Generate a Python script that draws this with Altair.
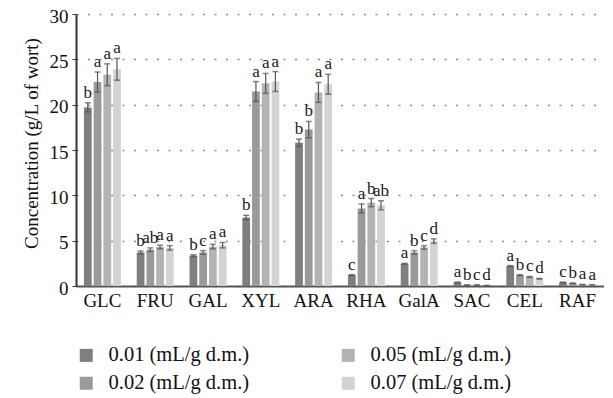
import altair as alt
import pandas as pd

sugars = ["GLC", "FRU", "GAL", "XYL", "ARA", "RHA", "GalA", "SAC", "CEL", "RAF"]
doses = ["0.01 (mL/g d.m.)", "0.02 (mL/g d.m.)", "0.05 (mL/g d.m.)", "0.07 (mL/g d.m.)"]
colors = ["#7f7f7f", "#9a9a9a", "#b3b3b3", "#d3d3d3"]

v001 = [19.7, 3.7, 3.35, 7.55, 15.8, 1.2, 2.45, 0.4, 2.2, 0.4]
v002 = [22.5, 4.0, 3.7, 21.45, 17.25, 8.55, 3.7, 0.1, 1.2, 0.3]
v005 = [23.3, 4.3, 4.35, 22.35, 21.35, 9.2, 4.25, 0.1, 1.0, 0.15]
v007 = [23.9, 4.2, 4.5, 22.55, 22.25, 8.9, 4.95, 0.05, 0.8, 0.12]

e001 = [0.5, 0.15, 0.1, 0.25, 0.4, 0.05, 0.05, 0.02, 0.05, 0.02]
e002 = [1.1, 0.2, 0.2, 1.1, 0.9, 0.5, 0.2, 0.02, 0.05, 0.02]
e005 = [1.2, 0.2, 0.25, 1.1, 1.1, 0.45, 0.2, 0.02, 0.05, 0.02]
e007 = [1.2, 0.25, 0.3, 1.1, 1.1, 0.5, 0.25, 0.01, 0.04, 0.02]

l001 = ["b", "b", "b", "b", "b", "c", "a", "a", "a", "c"]
l002 = ["a", "ab", "c", "a", "b", "a", "b", "b", "b", "b"]
l005 = ["a", "a", "a", "a", "a", "b", "c", "c", "c", "a"]
l007 = ["a", "a", "a", "a", "a", "ab", "d", "d", "d", "a"]

rows = []
for dose, vals, errs, lets in zip(doses, [v001, v002, v005, v007],
                                  [e001, e002, e005, e007],
                                  [l001, l002, l005, l007]):
    for s, v, e, l in zip(sugars, vals, errs, lets):
        rows.append({"sugar": s, "dose": dose, "value": v,
                     "lo": v - e, "hi": v + e, "letter": l})
df = pd.DataFrame(rows)

FONT = "Liberation Serif"

base = alt.Chart(df).encode(
    x=alt.X("sugar:N", sort=sugars,
            scale=alt.Scale(paddingInner=0.3, paddingOuter=0.15),
            axis=alt.Axis(title=None, ticks=False, labelAngle=0,
                          labelFont=FONT, labelFontSize=19, labelColor="#111",
                          labelPadding=5, domainColor="#555", domainWidth=2)),
    xOffset=alt.XOffset("dose:N", sort=doses,
                        scale=alt.Scale(paddingInner=0.2, paddingOuter=0)),
)

bars = base.mark_bar().encode(
    y=alt.Y("value:Q", scale=alt.Scale(domain=[0, 30], nice=False),
            axis=alt.Axis(values=[0, 5, 10, 15, 20, 25, 30], grid=True,
                          gridDash=[2, 9.5], gridColor="#8a8a8a", gridWidth=1.5,
                          domainColor="#333", domainWidth=2,
                          tickColor="#333", tickSize=4, labelPadding=4,
                          labelOffset=2,
                          labelFont=FONT, labelFontSize=19, labelColor="#111",
                          title="Concentration (g/L of wort)",
                          titleFont=FONT, titleFontSize=19,
                          titleFontWeight="normal", titleColor="#111",
                          titleX=-35, titleY=129)),
    color=alt.Color("dose:N",
                    scale=alt.Scale(domain=doses, range=colors),
                    legend=alt.Legend(title=None, orient="none",
                                      legendX=0, legendY=331, columns=2,
                                      columnPadding=88, rowPadding=7,
                                      symbolType="square", symbolSize=169,
                                      symbolStrokeWidth=0, labelOffset=12,
                                      labelFont=FONT, labelFontSize=20.5,
                                      labelColor="#111")),
)

rules = base.mark_rule(color="#555555", strokeWidth=1.2).encode(
    y="lo:Q", y2="hi:Q")
cap_lo = base.mark_tick(color="#555555", thickness=1.5, size=6).encode(y="lo:Q")
cap_hi = base.mark_tick(color="#555555", thickness=1.5, size=6).encode(y="hi:Q")
letters = base.mark_text(baseline="bottom", dy=-1, font=FONT, fontSize=17,
                         color="#1a1a1a").encode(y="hi:Q", text="letter:N")

chart = alt.layer(bars, rules, cap_lo, cap_hi, letters).properties(
    width=528, height=272,
    padding={"left": 68, "top": 6, "right": 0, "bottom": 110},
    autosize=alt.AutoSizeParams(type="none"),
).configure_view(stroke=None)

chart.save("out.html", embed_options={"renderer": "svg", "actions": False})
